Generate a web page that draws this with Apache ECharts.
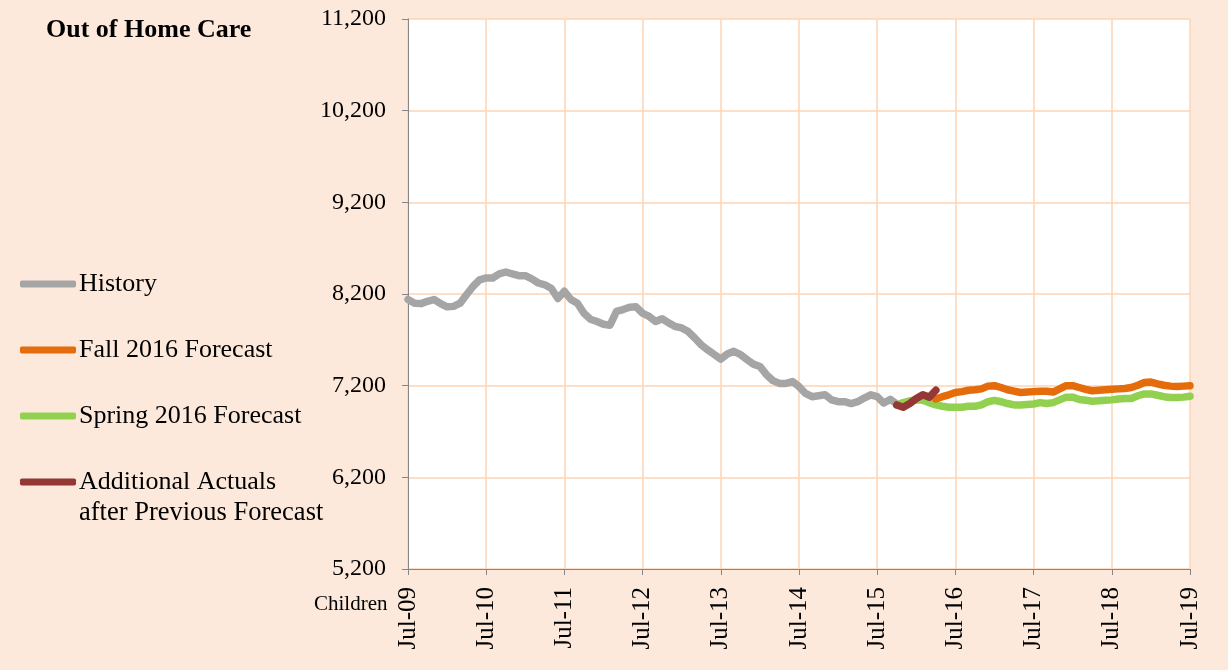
<!DOCTYPE html>
<html>
<head>
<meta charset="utf-8">
<script src="https://cdn.jsdelivr.net/npm/echarts@6/dist/echarts.min.js"></script>
<style>
  html, body { margin: 0; padding: 0; background: #fde9db; }
  #chart { width: 1228px; height: 670px; }
</style>
</head>
<body>
<div id="chart"></div>
<script>
// July labels, one per year; months in between are unlabeled categories
const yearLabels = ['Jul-09', 'Jul-10', 'Jul-11', 'Jul-12', 'Jul-13', 'Jul-14', 'Jul-15', 'Jul-16', 'Jul-17', 'Jul-18', 'Jul-19'];
const monthNames = ['Jul', 'Aug', 'Sep', 'Oct', 'Nov', 'Dec', 'Jan', 'Feb', 'Mar', 'Apr', 'May', 'Jun'];

// History: Jul-09 .. Oct-15 (index 0..75)
const history = [
  8140, 8100, 8095, 8120, 8140, 8095, 8060, 8065, 8100, 8195, 8285, 8355,
  8375, 8375, 8420, 8440, 8420, 8400, 8400, 8365, 8320, 8300, 8260, 8150,
  8230, 8140, 8100, 7990, 7925, 7900, 7870, 7860, 8010, 8030, 8055, 8060,
  7990, 7955, 7900, 7930, 7885, 7845, 7830, 7790, 7720, 7645, 7590, 7540,
  7490, 7545, 7575, 7540, 7485, 7435, 7410, 7320, 7255, 7225, 7225, 7245,
  7190, 7115, 7080, 7090, 7100, 7045, 7025, 7025, 7005, 7025, 7065, 7100,
  7080, 7010, 7050, 7000
];
// Additional actuals: index 75..81
const actualsStart = 75;
const actuals = [6990, 6965, 7005, 7060, 7100, 7075, 7150];
// Spring 2016 forecast: index 75..120
const springStart = 75;
const spring = [
  6990, 7015, 7035, 7045, 7040, 7015, 6990, 6975, 6965, 6965, 6965, 6975,
  6975, 6990, 7025, 7040, 7025, 7005, 6990, 6990, 6995, 7000, 7015, 7005,
  7015, 7045, 7075, 7075, 7050, 7040, 7030, 7035, 7040, 7045, 7055, 7060,
  7060, 7090, 7110, 7110, 7095, 7080, 7070, 7070, 7075, 7085
];
// Fall 2016 forecast: index 81..120
const fallStart = 81;
const fall = [
  7055, 7080, 7100, 7125, 7135, 7150, 7155, 7165, 7195, 7200, 7180, 7155,
  7140, 7125, 7130, 7135, 7140, 7140, 7130, 7165, 7200, 7200, 7180, 7160,
  7145, 7150, 7155, 7160, 7165, 7170, 7180, 7205, 7235, 7240, 7220, 7205,
  7195, 7190, 7195, 7200
];

const nMonths = (yearLabels.length - 1) * 12 + 1;
let categories = [];
for (let i = 0; i < nMonths; i++) {
  let yr = 9 + Math.floor((i + 6) / 12);
  categories.push(monthNames[i % 12] + '-' + String(yr).padStart(2, '0'));
}

function place(start, vals) {
  let arr = new Array(nMonths).fill(null);
  vals.forEach((v, k) => { arr[start + k] = v; });
  return arr;
}

const serif = 'Liberation Serif, Times New Roman, serif';
const isJuly = (idx) => idx % 12 === 0;

let chart = echarts.init(document.getElementById('chart'));
let option = {
  backgroundColor: '#fde9db',
  animation: false,
  textStyle: { fontFamily: serif, color: '#000' },
  title: {
    text: 'Out of Home Care',
    left: 41,
    top: 12,
    textStyle: { fontFamily: serif, fontSize: 26, fontWeight: 'bold', color: '#000' }
  },
  legend: {
    orient: 'vertical',
    left: 15,
    top: 265,
    itemWidth: 56,
    itemHeight: 7,
    itemGap: 38,
    icon: 'roundRect',
    textStyle: { fontFamily: serif, fontSize: 26, color: '#000', lineHeight: 28, padding: [0, 0, 0, -2] },
    data: ['History', 'Fall 2016 Forecast', 'Spring 2016 Forecast', 'Additional Actuals']
  },
  graphic: [
    { type: 'text', left: 79, top: 500, style: { text: 'after Previous Forecast', font: '26.5px ' + serif, fill: '#000' } },
    { type: 'text', left: 314, top: 594, style: { text: 'Children', font: '21px ' + serif, fill: '#000' } }
  ],
  grid: {
    left: 408,
    right: 38,
    top: 19,
    bottom: 101,
    show: true,
    backgroundColor: '#ffffff',
    borderWidth: 0
  },
  xAxis: {
    type: 'category',
    data: categories,
    boundaryGap: false,
    axisLine: { lineStyle: { color: '#868686', width: 1 } },
    axisTick: { show: true, interval: isJuly, length: 6, lineStyle: { color: '#868686' } },
    axisLabel: {
      interval: isJuly,
      rotate: 90,
      margin: 18,
      fontFamily: serif,
      fontSize: 25,
      color: '#000'
    },
    splitLine: { show: true, interval: isJuly, lineStyle: { color: '#fcd5b4', width: 1.5 } }
  },
  yAxis: {
    type: 'value',
    min: 5200,
    max: 11200,
    interval: 1000,
    axisLine: { show: true, lineStyle: { color: '#868686', width: 1 } },
    axisTick: { show: true, length: 6, lineStyle: { color: '#868686' } },
    axisLabel: {
      margin: 22,
      fontFamily: serif,
      fontSize: 24,
      color: '#000',
      formatter: v => v.toLocaleString('en-US')
    },
    splitLine: { show: true, lineStyle: { color: '#fcd5b4', width: 1.5 } }
  },
  series: [
    {
      name: 'History', type: 'line', data: place(0, history),
      showSymbol: false, symbol: 'none',
      lineStyle: { color: '#a5a5a5', width: 7.5, cap: 'round', join: 'round' },
      itemStyle: { color: '#a5a5a5' }, z: 2
    },
    {
      name: 'Spring 2016 Forecast', type: 'line', data: place(springStart, spring),
      showSymbol: false, symbol: 'none',
      lineStyle: { color: '#92d050', width: 7.5, cap: 'round', join: 'round' },
      itemStyle: { color: '#92d050' }, z: 3
    },
    {
      name: 'Fall 2016 Forecast', type: 'line', data: place(fallStart, fall),
      showSymbol: false, symbol: 'none',
      lineStyle: { color: '#e46c0a', width: 7.5, cap: 'round', join: 'round' },
      itemStyle: { color: '#e46c0a' }, z: 4
    },
    {
      name: 'Additional Actuals', type: 'line', data: place(actualsStart, actuals),
      showSymbol: false, symbol: 'none',
      lineStyle: { color: '#953735', width: 7.5, cap: 'round', join: 'round' },
      itemStyle: { color: '#953735' }, z: 5
    }
  ]
};
chart.setOption(option);
</script>
</body>
</html>
